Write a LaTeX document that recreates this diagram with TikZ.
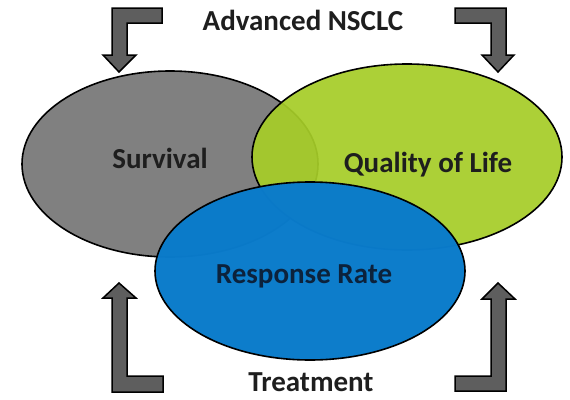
\documentclass[tikz,border=0pt]{standalone}
\usepackage{fontspec}
\setmainfont{Carlito}
\usetikzlibrary{shapes.geometric}
\definecolor{survgray}{HTML}{808080}
\definecolor{qolgreen}{HTML}{A6CD28}
\definecolor{rrblue}{HTML}{0A7BCB}
\definecolor{arrowgray}{HTML}{5E5E5E}
\definecolor{labeldark}{HTML}{1E1E1E}
\definecolor{labelnavy}{HTML}{0C223C}
\tikzset{
  circ/.style={ellipse, draw=black, line width=1.6pt, inner sep=0pt},
  bentarrow/.style={draw=black, line width=1.5pt, fill=arrowgray, line join=miter},
  lbl/.style={font=\fontsize{29}{31}\selectfont\bfseries, text=labeldark, inner sep=0pt},
}
\begin{document}
\begin{tikzpicture}[x=1pt, y=-1pt]
\useasboundingbox (0,0) rectangle (570,399);
\fill[white] (0,0) rectangle (570,399);
% the three overlapping outcome ellipses
\node[circ, fill=survgray, minimum width=296pt, minimum height=186pt] (surv) at (170,164) {};
\node[circ, fill=qolgreen, fill opacity=0.93, minimum width=310pt, minimum height=186pt] (qol) at (407,157) {};
\node[circ, fill=rrblue, fill opacity=0.985, minimum width=310pt, minimum height=178pt] (rr) at (310,271) {};
% labels
\node[lbl] (tsurv) at (160,158) {Survival};
\node[lbl] (tqol) at (428,165) {Quality of Life};
\node[lbl, text=labelnavy] (trr) at (304,276) {Response Rate};
\node[lbl] (top) at (303,20) {Advanced NSCLC};
\node[lbl] (bottom) at (311,382) {Treatment};
% bent arrows in the four corners
\draw[bentarrow] (162,8) -- (112,8) -- (112,55) -- (103,55) -- (119,72) -- (136,55) -- (127,55) -- (127,23) -- (162,23) -- cycle;
\draw[bentarrow] (455,8) -- (506,8) -- (506,55) -- (514,55) -- (498,72) -- (482,55) -- (491,55) -- (491,23) -- (455,23) -- cycle;
\draw[bentarrow] (119,283) -- (136,298) -- (127,298) -- (127,376) -- (163,376) -- (163,392) -- (112,392) -- (112,298) -- (103,298) -- cycle;
\draw[bentarrow] (498,283) -- (515,299) -- (506,299) -- (506,391) -- (455,391) -- (455,376) -- (491,376) -- (491,299) -- (482,299) -- cycle;
\end{tikzpicture}
\end{document}
